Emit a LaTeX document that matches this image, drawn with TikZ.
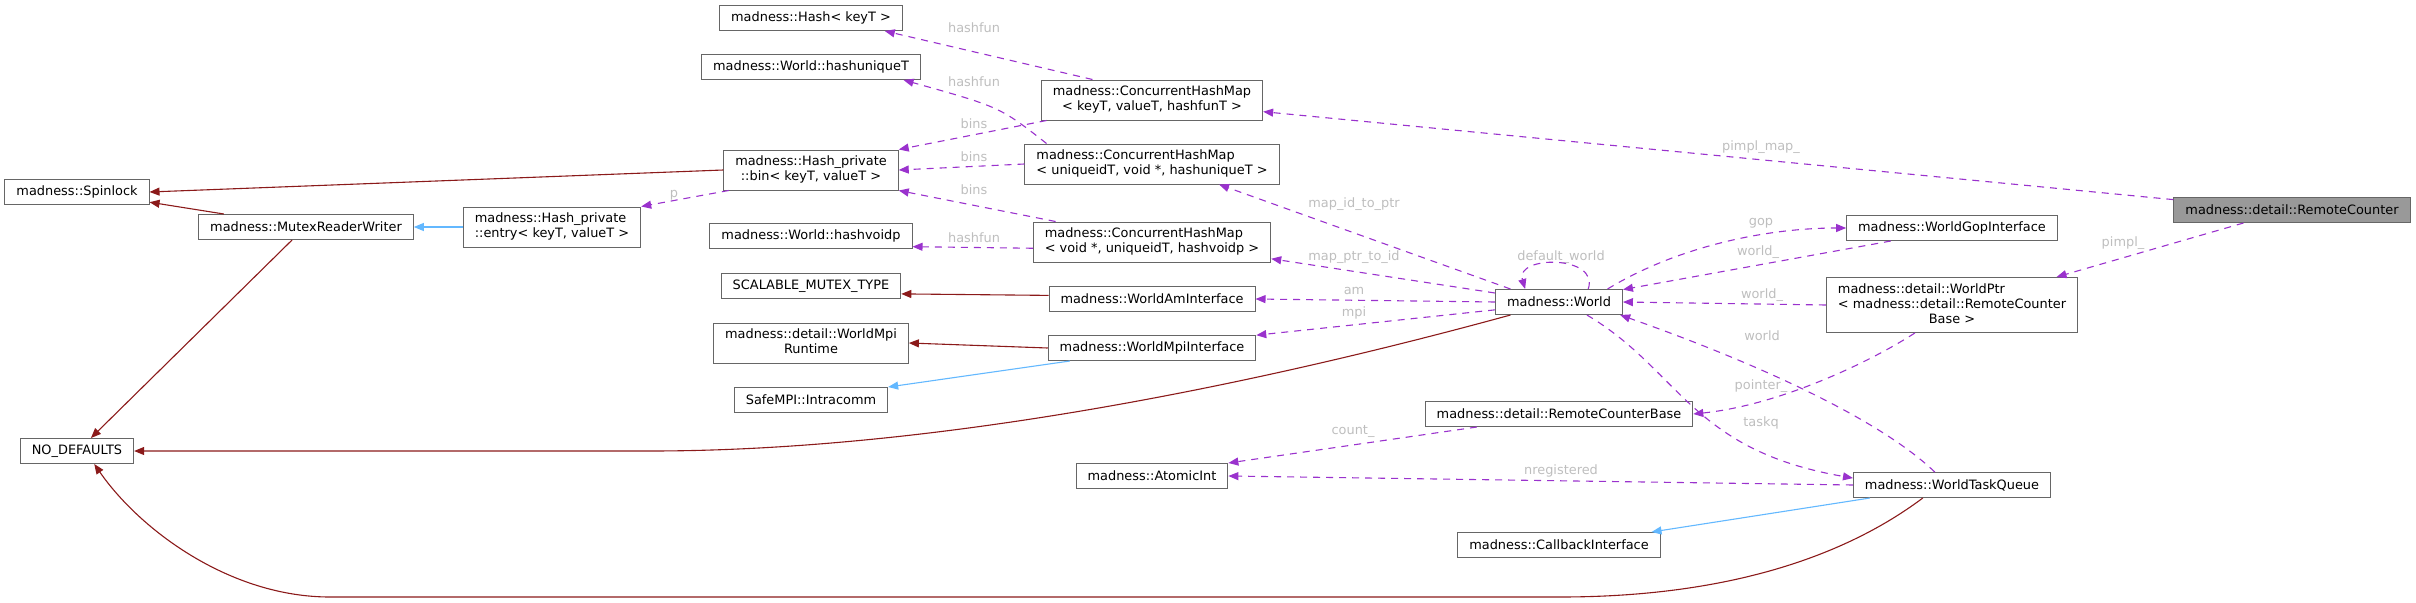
\documentclass[tikz,border=0pt]{standalone}
\usepackage{fontspec}
\setmainfont{DejaVu Sans}
\usepackage{tikz}
\usetikzlibrary{arrows.meta,positioning}
\usepackage{xcolor}
\definecolor{UseEdge}{HTML}{9A32CD}
\definecolor{PrivEdge}{HTML}{8B1A1A}
\definecolor{PubEdge}{HTML}{63B8FF}
\definecolor{LblGrey}{HTML}{BEBEBE}
\definecolor{BoxLine}{HTML}{666666}
\definecolor{RootFill}{HTML}{999999}
\newcommand{\dfont}{\fontsize{12.9}{15}\selectfont}
\newcommand{\twoln}[2]{\begin{tabular}{@{}l@{}}#1\\\multicolumn{1}{@{}c@{}}{#2}\end{tabular}}
\tikzset{
  clsbox/.style={draw=BoxLine, line width=1pt, minimum height=25pt,
    inner xsep=11.5pt, inner ysep=5pt, font=\dfont,
    fill=#1},
  clsbox/.default={white},
  usearr/.style={-{Triangle[length=10pt,width=8pt]}, line width=1.1pt, color=UseEdge,
    dash pattern=on 7pt off 6pt},
  privarr/.style={-{Triangle[length=10pt,width=8pt]}, line width=1.1pt, color=PrivEdge},
  pubarr/.style={-{Triangle[length=10pt,width=8pt]}, line width=1.1pt, color=PubEdge},
  lbl/.style={font=\dfont, text=LblGrey, inner sep=0pt},
}

\begin{document}
\begin{tikzpicture}[x=1pt, y=-1pt]
  \useasboundingbox (0,0) rectangle (2416,602);

  % left columns
  \node[clsbox] (spin) at (77,192) {madness::Spinlock};
  \node[clsbox] (nodef) at (77,451) {NO\_DEFAULTS};
  \node[clsbox] (mrw) at (306,227) {madness::MutexReaderWriter};
  \node[clsbox] (entry) at (552,227) {\twoln{madness::Hash\_private}{::entry< keyT, valueT >}};

  \node[clsbox] (hashk) at (811,18) {madness::Hash< keyT >};
  \node[clsbox] (huniq) at (811,67) {madness::World::hashuniqueT};
  \node[clsbox] (bin) at (811,170) {\twoln{madness::Hash\_private}{::bin< keyT, valueT >}};
  \node[clsbox] (hvoid) at (811,236) {madness::World::hashvoidp};
  \node[clsbox] (smt) at (811,286) {SCALABLE\_MUTEX\_TYPE};
  \node[clsbox] (mpirt) at (811,343) {\twoln{madness::detail::WorldMpi}{Runtime}};
  \node[clsbox] (intra) at (811,400) {SafeMPI::Intracomm};

  \node[clsbox] (chmk) at (1152,100) {\twoln{madness::ConcurrentHashMap}{< keyT, valueT, hashfunT >}};
  \node[clsbox] (chmu) at (1152,164) {\twoln{madness::ConcurrentHashMap}{< uniqueidT, void *, hashuniqueT >}};
  \node[clsbox] (chmv) at (1152,242) {\twoln{madness::ConcurrentHashMap}{< void *, uniqueidT, hashvoidp >}};
  \node[clsbox] (amif) at (1152,299) {madness::WorldAmInterface};
  \node[clsbox] (mpiif) at (1152,348) {madness::WorldMpiInterface};
  \node[clsbox] (aint) at (1152,476) {madness::AtomicInt};

  % right columns
  \node[clsbox] (world) at (1559,302) {madness::World};
  \node[clsbox] (rcb) at (1559,414) {madness::detail::RemoteCounterBase};
  \node[clsbox] (cbif) at (1559,545) {madness::CallbackInterface};
  \node[clsbox] (gop) at (1952,228) {madness::WorldGopInterface};
  \node[clsbox] (wptr) at (1952,305)
    {\twoln{madness::detail::WorldPtr\\< madness::detail::RemoteCounter}{Base >}};
  \node[clsbox] (wtq) at (1952,485) {madness::WorldTaskQueue};
  \node[clsbox=RootFill] (rc) at (2292,210) {madness::detail::RemoteCounter};

  % edge labels
  \node[lbl] (l-hf1) at (974,28) {hashfun};
  \node[lbl] (l-hf2) at (974,82) {hashfun};
  \node[lbl] (l-bn1) at (974,124) {bins};
  \node[lbl] (l-bn2) at (974,157) {bins};
  \node[lbl] (l-bn3) at (974,190) {bins};
  \node[lbl] (l-hf3) at (974,238) {hashfun};
  \node[lbl] (l-p) at (674,195) {p};
  \node[lbl] (l-pmap) at (1761,147) {pimpl\_map\_};
  \node[lbl] (l-idp) at (1354,204) {map\_id\_to\_ptr};
  \node[lbl] (l-pid) at (1354,257) {map\_ptr\_to\_id};
  \node[lbl] (l-dw) at (1561,257) {default\_world};
  \node[lbl] (l-gop) at (1761,223) {gop};
  \node[lbl] (l-w1) at (1758,252) {world\_};
  \node[lbl] (l-w2) at (1762,295) {world\_};
  \node[lbl] (l-w3) at (1762,336) {world};
  \node[lbl] (l-am) at (1354,291) {am};
  \node[lbl] (l-mpi) at (1354,313) {mpi};
  \node[lbl] (l-ptr) at (1761,386) {pointer\_};
  \node[lbl] (l-tq) at (1761,423) {taskq};
  \node[lbl] (l-cnt) at (1353,431) {count\_};
  \node[lbl] (l-nreg) at (1561,471) {nregistered};
  \node[lbl] (l-pimpl) at (2123,243) {pimpl\_};

  % usage edges
  \draw[usearr] (chmk.161) -- (hashk.-10);
  \draw[usearr] (chmu.169) .. controls (1000,107) .. (huniq.-8);
  \draw[usearr] (chmk.191) -- (bin.north east);
  \draw[usearr] (chmu.west) -- (bin.east);
  \draw[usearr] (chmv.168) -- (bin.south east);
  \draw[usearr] (chmv.183) -- (hvoid.-6);
  \draw[usearr] (bin.194) -- (entry.north east);
  \draw[usearr] (world.west) -- (amif.east);
  \draw[usearr] (world.-173) -- (mpiif.7);
  \draw[usearr] (world.165) -- (chmu.-17);
  \draw[usearr] (world.172) -- (chmv.-8);
  \draw[usearr] (world.24) .. controls (1600,255) and (1515,255) .. (world.159);
  \draw[usearr] (world.15) .. controls (1680,245) and (1770,228) .. (gop.west);
  \draw[usearr] (gop.192) -- (world.11);
  \draw[usearr] (wptr.west) -- (world.east);
  \draw[usearr] (wtq.143) .. controls (1870,410) and (1720,350) .. (world.-12);
  \draw[usearr] (world.-25) .. controls (1680,370) and (1690,450) .. (wtq.176);
  \draw[usearr] (wptr.217) .. controls (1870,362) and (1780,405) .. (rcb.east);
  \draw[usearr] (rcb.189) -- (aint.north east);
  \draw[usearr] (wtq.west) -- (aint.east);
  \draw[usearr] (rc.175) -- (chmk.-6);
  \draw[usearr] (rc.195) -- (wptr.15);

  % inheritance edges
  \draw[privarr] (bin.west) -- (spin.east);
  \draw[privarr] (mrw.171) -- (spin.-8);
  \draw[pubarr] (entry.west) -- (mrw.east);
  \draw[privarr] (mrw.223) -- (nodef.43);
  \draw[privarr] (world.-165) .. controls (1200,400) and (900,451) .. (650,451) -- (nodef.east);
  \draw[privarr] (wtq.204) .. controls (1840,560) and (1720,597) .. (1560,597)
    -- (330,597) .. controls (230,597) and (140,530) .. (nodef.-37);
  \draw[privarr] (amif.178) -- (smt.-5);
  \draw[privarr] (mpiif.west) -- (mpirt.east);
  \draw[pubarr] (mpiif.189) -- (intra.north east);
  \draw[pubarr] (wtq.189) -- (cbif.8);
\end{tikzpicture}
\end{document}
